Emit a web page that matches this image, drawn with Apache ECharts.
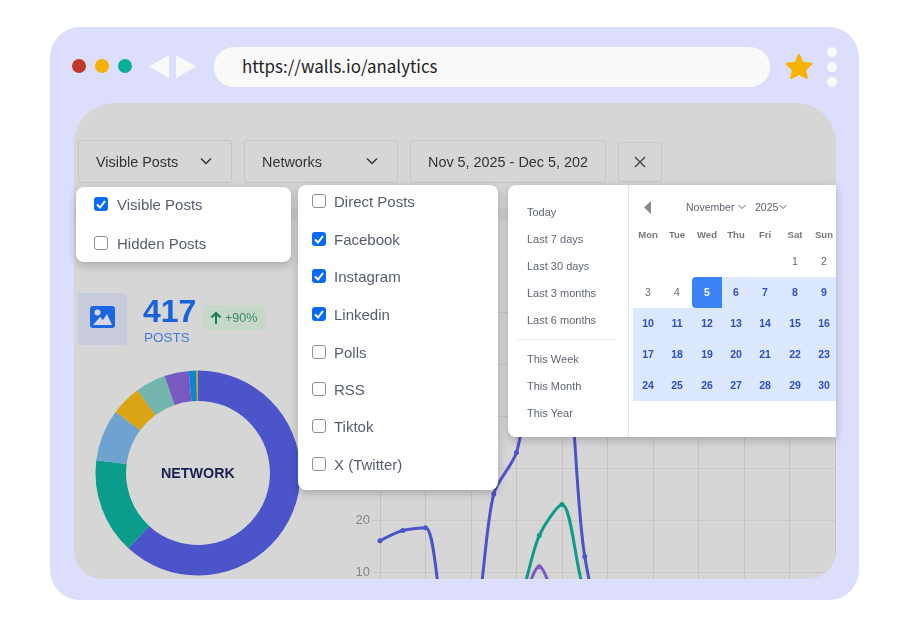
<!DOCTYPE html>
<html>
<head>
<meta charset="utf-8">
<title>walls.io analytics</title>
<script src="https://cdn.jsdelivr.net/npm/echarts@6/dist/echarts.min.js"></script>
<style>
html,body{margin:0;padding:0;background:#fff;width:909px;height:628px;overflow:hidden;font-family:"Liberation Sans",Arial,sans-serif}
div,svg,span{position:absolute;box-sizing:border-box}
#frame{left:50px;top:27px;width:809px;height:573px;background:#dcdefb;border-radius:30px}
.dot{border-radius:50%}
#url{left:214px;top:47px;width:556px;height:40px;border-radius:20px;background:#f9f9f9;color:#222;font:16.9px/37px "Noto Sans CJK SC",sans-serif;padding-left:28px}
#panel{left:74px;top:103px;width:762px;height:476px;background:#d6d6d6;border-radius:40px 40px 28px 28px;overflow:hidden}
#main{left:0;top:0;width:762px;height:560px}
.sel{height:43px;top:140px;border:1px solid #c6c6c6;border-radius:2px;color:#333;font-size:14.4px;line-height:42px;padding-left:17px;white-space:nowrap;overflow:hidden}
.pop{background:#fff;border-radius:8px;box-shadow:0 3px 10px rgba(0,0,0,.22)}
.opt{color:#565d6d;font-size:15px;line-height:20px;white-space:nowrap}
.box{width:14px;height:14px;border:1.5px solid #8f8f8f;border-radius:3px;background:#fff}
.box.on{background:#0a6cf5;border:none}
.lnk{color:#5f6672;font-size:11px;line-height:14px;white-space:nowrap}
.day{width:30px;text-align:center;font-size:10.5px;line-height:14px;color:#666}
.day.b{font-weight:bold;color:#2f4fc4}
.wk{width:30px;text-align:center;font-size:9.5px;font-weight:bold;line-height:12px;color:#777}
</style>
</head>
<body>
<div id="frame"></div>
<div class="dot" style="left:72px;top:59px;width:14px;height:14px;background:#c0392b"></div>
<div class="dot" style="left:95px;top:59px;width:14px;height:14px;background:#f5b301"></div>
<div class="dot" style="left:118px;top:59px;width:14px;height:14px;background:#0aaf96"></div>
<svg style="left:149px;top:54px" width="48" height="25"><polygon points="20,1 20,24 0,12.5" fill="#f9f9f9"/><polygon points="27,1 27,24 47,12.5" fill="#f9f9f9"/></svg>
<div id="url">https://walls.io/analytics</div>
<svg style="left:785px;top:53px" width="28" height="27" viewBox="0 0 30 29"><polygon points="15,2 19,10.5 28.5,11.5 21.5,18 23.5,27 15,22.5 6.5,27 8.5,18 1.5,11.5 11,10.5" fill="#f5b301" stroke="#f5b301" stroke-width="2" stroke-linejoin="round"/></svg>
<div class="dot" style="left:827px;top:47px;width:10px;height:10px;background:#f9f9f9"></div>
<div class="dot" style="left:827px;top:62px;width:10px;height:10px;background:#f9f9f9"></div>
<div class="dot" style="left:827px;top:77px;width:10px;height:10px;background:#f9f9f9"></div>

<div id="panel">
  <div id="main"></div>
  <div style="left:0;top:105px;width:762px;height:12px;background:#cfcfcf"></div>
  <div style="left:4px;top:190px;width:49px;height:52px;background:#c8cbdc;border-radius:2px"></div>
  <svg style="left:16px;top:203px" width="25" height="23" viewBox="0 0 25 23"><rect width="25" height="22" rx="3" fill="#1a66e0"/><circle cx="7.5" cy="6.5" r="3" fill="#d6d6e6"/><polygon points="3,19 10,11 13,14 17,8 22,19" fill="#d6d6e6"/></svg>
  <div style="left:69px;top:189px;color:#1a62d8;font-size:32px;font-weight:bold;line-height:38px">417</div>
  <div style="left:70px;top:227px;color:#4a7ad8;font-size:13.5px;line-height:16px">POSTS</div>
  <div style="left:129px;top:202px;width:62px;height:25px;background:#c6d9c8;border-radius:4px"></div>
  <svg style="left:136px;top:208px" width="12" height="14"><path d="M6 13 L6 2 M1.5 6.5 L6 2 L10.5 6.5" fill="none" stroke="#1e7a50" stroke-width="2"/></svg>
  <div style="left:151px;top:202px;color:#3f8a68;font-size:12.5px;line-height:26px;white-space:nowrap">+90%</div>
</div>

<div class="sel" style="left:78px;width:154px">Visible Posts</div>
<svg style="left:199px;top:157px" width="14" height="9"><polyline points="2,1.5 7,6.5 12,1.5" fill="none" stroke="#333" stroke-width="1.5"/></svg>
<div class="sel" style="left:244px;width:154px">Networks</div>
<svg style="left:365px;top:157px" width="14" height="9"><polyline points="2,1.5 7,6.5 12,1.5" fill="none" stroke="#333" stroke-width="1.5"/></svg>
<div class="sel" style="left:410px;width:196px">Nov 5, 2025 - Dec 5, 202</div>
<div class="sel" style="left:618px;top:142px;width:44px;height:40px"></div>
<svg style="left:633px;top:155px" width="14" height="14"><path d="M2 2 L12 12 M12 2 L2 12" stroke="#444" stroke-width="1.4"/></svg>

<div id="pop1" class="pop" style="left:76px;top:187px;width:215px;height:75px"></div>
<div id="pop2" class="pop" style="left:298px;top:185px;width:200px;height:305px"></div>
<div id="pop3" class="pop" style="left:508px;top:185px;width:328px;height:252px;border-radius:8px 0 0 8px"></div>
<div style="left:628px;top:185px;width:1px;height:252px;background:#e4e4e8"></div>
<div style="left:517px;top:339px;width:99px;height:1px;background:#ececf0"></div>
<div style="left:633px;top:308px;width:203px;height:93px;background:#dbe8fd"></div>
<div style="left:722px;top:277px;width:114px;height:31px;background:#dbe8fd"></div>
<div style="left:692px;top:277px;width:30px;height:31px;background:#3b82f6;border-radius:4px 0 0 4px"></div>
<svg style="left:643px;top:201px" width="10" height="13"><polygon points="8,0 8,13 1,6.5" fill="#8a8a8a"/></svg>
<div class="lnk" style="left:686px;top:200px;font-size:10.5px">November</div>
<svg style="left:737px;top:204px" width="10" height="7"><polyline points="1.5,1 5,4.5 8.5,1" fill="none" stroke="#666" stroke-width="1"/></svg>
<div class="lnk" style="left:755px;top:200px;font-size:10.5px">2025</div>
<svg style="left:778px;top:204px" width="10" height="7"><polyline points="1.5,1 5,4.5 8.5,1" fill="none" stroke="#666" stroke-width="1"/></svg>
<div id="cal"></div>

<script type="text/javascript">
// donut: posts per network
var networks = ['Facebook', 'Instagram', 'Linkedin', 'Polls', 'RSS', 'Tiktok', 'X (Twitter)', 'Direct Posts'];
var networkPosts = [258, 63, 34, 20, 20, 16, 5, 1];
var networkColors = ['#4b55c9', '#0a9d8c', '#6fa3cf', '#d9a515', '#73b5ae', '#775ac2', '#0b84d4', '#d9a515'];

// line chart, the part under the popups is an estimate
var days = ['Nov 5','Nov 6','Nov 7','Nov 8','Nov 9','Nov 10','Nov 11','Nov 12','Nov 13','Nov 14','Nov 15','Nov 16','Nov 17','Nov 18','Nov 19','Nov 20','Nov 21','Nov 22','Nov 23','Nov 24','Nov 25'];
var facebookPosts = [16, 18, 18.5, 0, 0, 25, 33, 52, 52, 13, 0, 0, 0, 0, 0, 0, 0, 0, 0, 0, 0];
var instagramPosts = [0, 0, 0, 0, 0, 0, 3, 17, 23, 6, 0, 0, 0, 0, 0, 0, 0, 0, 0, 0, 0];
var linkedinPosts = [0, 0, 0, 0, 0, 0, 2, 11, 2, 0, 0, 0, 0, 0, 0, 0, 0, 0, 0, 0, 0];

// popup lists
var visibleOptions = ['Visible Posts', 'Hidden Posts'];
var visibleChecked = [true, false];
var networkOptions = ['Direct Posts', 'Facebook', 'Instagram', 'Linkedin', 'Polls', 'RSS', 'Tiktok', 'X (Twitter)'];
var networkChecked = [false, true, true, true, false, false, false, false];
var rangeLinks = ['Today', 'Last 7 days', 'Last 30 days', 'Last 3 months', 'Last 6 months', 'This Week', 'This Month', 'This Year'];
var rangeY = [212, 239, 266, 293, 320, 359, 386, 413];
var weekDays = ['Mon', 'Tue', 'Wed', 'Thu', 'Fri', 'Sat', 'Sun'];

function add(html) {
	document.body.insertAdjacentHTML('beforeend', html);
}
function checks(list, on, x, ys, textX) {
	for (var i = 0; i < list.length; i++) {
		var tick = on[i] ? '<svg style="left:' + x + 'px;top:' + (ys[i] - 7) + 'px" width="14" height="14"><path d="M3 7.5 L6 10.5 L11 4" fill="none" stroke="#fff" stroke-width="2"/></svg>' : '';
		add('<div class="box' + (on[i] ? ' on' : '') + '" style="left:' + x + 'px;top:' + (ys[i] - 7) + 'px"></div>' + tick);
		add('<div class="opt" style="left:' + textX + 'px;top:' + (ys[i] - 9) + 'px">' + list[i] + '</div>');
	}
}
checks(visibleOptions, visibleChecked, 94, [204, 243], 117);
checks(networkOptions, networkChecked, 312, [201, 239, 276, 314, 352, 389, 426, 464], 334);

for (var i = 0; i < rangeLinks.length; i++) {
	add('<div class="lnk" style="left:527px;top:' + (rangeY[i] - 7) + 'px">' + rangeLinks[i] + '</div>');
}
// calendar grid
var colX = [633, 662, 692, 721, 750, 780, 809];
var rowY = [261, 292, 323, 354, 385];
for (var i = 0; i < 7; i++) {
	add('<div class="wk" style="left:' + colX[i] + 'px;top:229px">' + weekDays[i] + '</div>');
}
for (var d = 1; d <= 30; d++) {
	var idx = d + 4; // Nov 1 is a Saturday
	var c = idx % 7, r = Math.floor(idx / 7);
	var cls = d >= 5 ? 'day b' : 'day';
	var extra = d == 5 ? 'color:#fff;' : '';
	add('<div class="' + cls + '" style="left:' + colX[c] + 'px;top:' + (rowY[r] - 7) + 'px;' + extra + '">' + d + '</div>');
}

var pieData = [];
for (var i = 0; i < networks.length; i++) {
	pieData.push({ name: networks[i], value: networkPosts[i], itemStyle: { color: networkColors[i] } });
}
function lineSeries(name, data, color) {
	return {
		name: name, type: 'line', data: data, smooth: 0.3, silent: true,
		symbol: 'circle', symbolSize: 5, showAllSymbol: true,
		lineStyle: { color: color, width: 3 }, itemStyle: { color: color }
	};
}
var myChart = echarts.init(document.getElementById('main'));
myChart.setOption({
	animation: false,
	backgroundColor: 'transparent',
	title: {
		text: 'NETWORK', left: 87, top: 364, padding: 0,
		textStyle: { fontFamily: 'Liberation Sans', fontSize: 14.3, fontWeight: 'bold', color: '#1a2050' }
	},
	grid: { left: 306, top: 209, width: 455, height: 312 },
	xAxis: {
		type: 'category', data: days, boundaryGap: false,
		axisLine: { show: false }, axisTick: { show: false }, axisLabel: { show: false },
		splitLine: { show: true, interval: 1, lineStyle: { color: '#c7c1c2', width: 1 } }
	},
	yAxis: {
		type: 'value', min: 0, max: 60, interval: 10,
		axisLine: { show: true, lineStyle: { color: '#c7c1c2' } },
		axisTick: { show: true, length: 8, lineStyle: { color: '#cec5c7' } },
		axisLabel: { color: '#858585', fontSize: 13, fontFamily: 'Liberation Sans', margin: 10 },
		splitLine: { lineStyle: { color: '#cec5c7', width: 1 } }
	},
	series: [
		{
			type: 'pie', center: [124, 370], radius: [72, 102.5], startAngle: 90, clockwise: true,
			silent: true, label: { show: false }, labelLine: { show: false }, data: pieData
		},
		lineSeries('Linkedin', linkedinPosts, '#7a5bc4'),
		lineSeries('Instagram', instagramPosts, '#0d9b8a'),
		lineSeries('Facebook', facebookPosts, '#4b53c8')
	]
});
</script>
</body>
</html>
